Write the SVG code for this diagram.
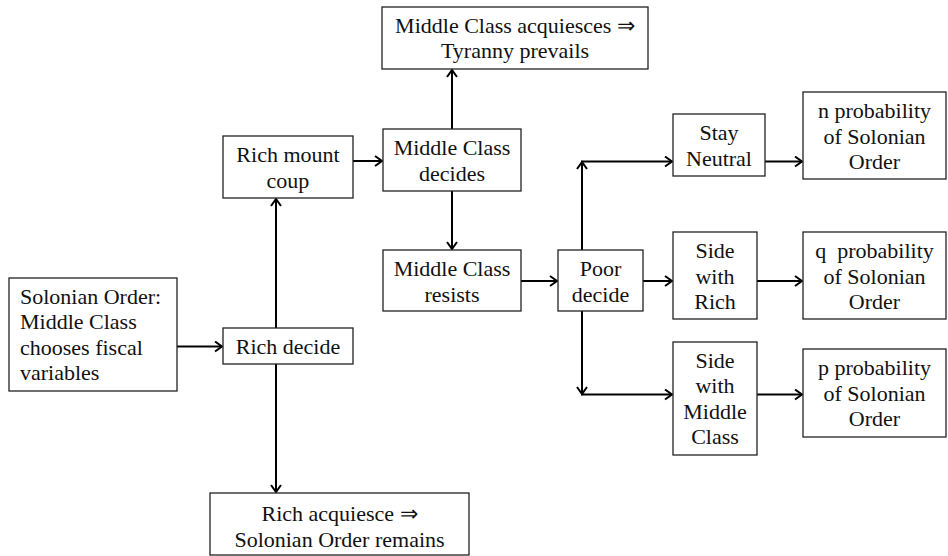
<svg xmlns="http://www.w3.org/2000/svg" width="948" height="556" viewBox="0 0 948 556">
<defs>
<marker id="ah" markerUnits="userSpaceOnUse" markerWidth="12" markerHeight="12" refX="9" refY="6" orient="auto">
<path d="M2,1 L9,6 L2,11" fill="none" stroke="#000" stroke-width="2"/>
</marker>
<style>
rect{fill:#fff;stroke:#222;stroke-width:1.3}
text{font-family:"Liberation Serif","Times New Roman",serif;font-size:22px;fill:#111;text-anchor:middle}
.l{text-anchor:start}
#connectors line,#connectors path{stroke:#000;stroke-width:2;fill:none;marker-end:url(#ah)}
</style>
</defs>
<rect x="0" y="0" width="948" height="556" style="fill:#fff;stroke:none"/>
<g id="connectors">
<line x1="177" y1="346.5" x2="222" y2="346.5"/>
<line x1="276" y1="328" x2="276" y2="199"/>
<line x1="276" y1="364" x2="276" y2="492"/>
<line x1="353" y1="161" x2="382" y2="161"/>
<line x1="452" y1="129" x2="452" y2="70"/>
<line x1="452" y1="191" x2="452" y2="249"/>
<line x1="521" y1="281" x2="557" y2="281"/>
<line x1="582" y1="250" x2="582" y2="162"/>
<line x1="581" y1="161.5" x2="672" y2="161.5"/>
<line x1="643" y1="281" x2="672" y2="281"/>
<line x1="582" y1="311" x2="582" y2="394"/>
<line x1="581" y1="394.5" x2="672" y2="394.5"/>
<line x1="765" y1="161.5" x2="802" y2="161.5"/>
<line x1="757" y1="281" x2="802" y2="281"/>
<line x1="757" y1="394.5" x2="802" y2="394.5"/>
</g>
<g id="tyranny"><rect x="382" y="7" width="266" height="62"/><text x="515" y="32.5">Middle Class acquiesces ⇒</text><text x="515" y="57.5">Tyranny prevails</text></g>
<g id="coup"><rect x="223" y="136" width="130" height="62"/><text x="288" y="162">Rich mount</text><text x="288" y="187.5">coup</text></g>
<g id="mcdecides"><rect x="383" y="129" width="138" height="62"/><text x="452" y="155">Middle Class</text><text x="452" y="180.5">decides</text></g>
<g id="mcresists"><rect x="383" y="250" width="138" height="61"/><text x="452" y="276">Middle Class</text><text x="452" y="301.5">resists</text></g>
<g id="solonian"><rect x="9" y="278" width="168" height="113"/><text class="l" x="20" y="303.5">Solonian Order:</text><text class="l" x="20" y="329">Middle Class</text><text class="l" x="20" y="354.5">chooses fiscal</text><text class="l" x="20" y="380">variables</text></g>
<g id="richdecide"><rect x="223" y="328" width="130" height="36"/><text x="288" y="354">Rich decide</text></g>
<g id="richacq"><rect x="210" y="493" width="259" height="62"/><text x="339.5" y="521">Rich acquiesce ⇒</text><text x="339.5" y="546.5">Solonian Order remains</text></g>
<g id="poor"><rect x="558" y="250" width="85" height="61"/><text x="600.5" y="276">Poor</text><text x="600.5" y="301.5">decide</text></g>
<g id="neutral"><rect x="673" y="114" width="92" height="62"/><text x="719" y="140">Stay</text><text x="719" y="165.5">Neutral</text></g>
<g id="nprob"><rect x="803" y="92" width="143" height="87"/><text x="874.5" y="118">n probability</text><text x="874.5" y="143.5">of Solonian</text><text x="874.5" y="169">Order</text></g>
<g id="siderich"><rect x="673" y="232" width="84" height="87"/><text x="715" y="258">Side</text><text x="715" y="283.5">with</text><text x="715" y="309">Rich</text></g>
<g id="qprob"><rect x="803" y="232" width="143" height="87"/><text x="874.5" y="258" xml:space="preserve">q  probability</text><text x="874.5" y="283.5">of Solonian</text><text x="874.5" y="309">Order</text></g>
<g id="sidemc"><rect x="673" y="342" width="84" height="113"/><text x="715" y="367.5">Side</text><text x="715" y="393">with</text><text x="715" y="418.5">Middle</text><text x="715" y="444">Class</text></g>
<g id="pprob"><rect x="803" y="349" width="143" height="88"/><text x="874.5" y="375">p probability</text><text x="874.5" y="400.5">of Solonian</text><text x="874.5" y="426">Order</text></g>
</svg>
